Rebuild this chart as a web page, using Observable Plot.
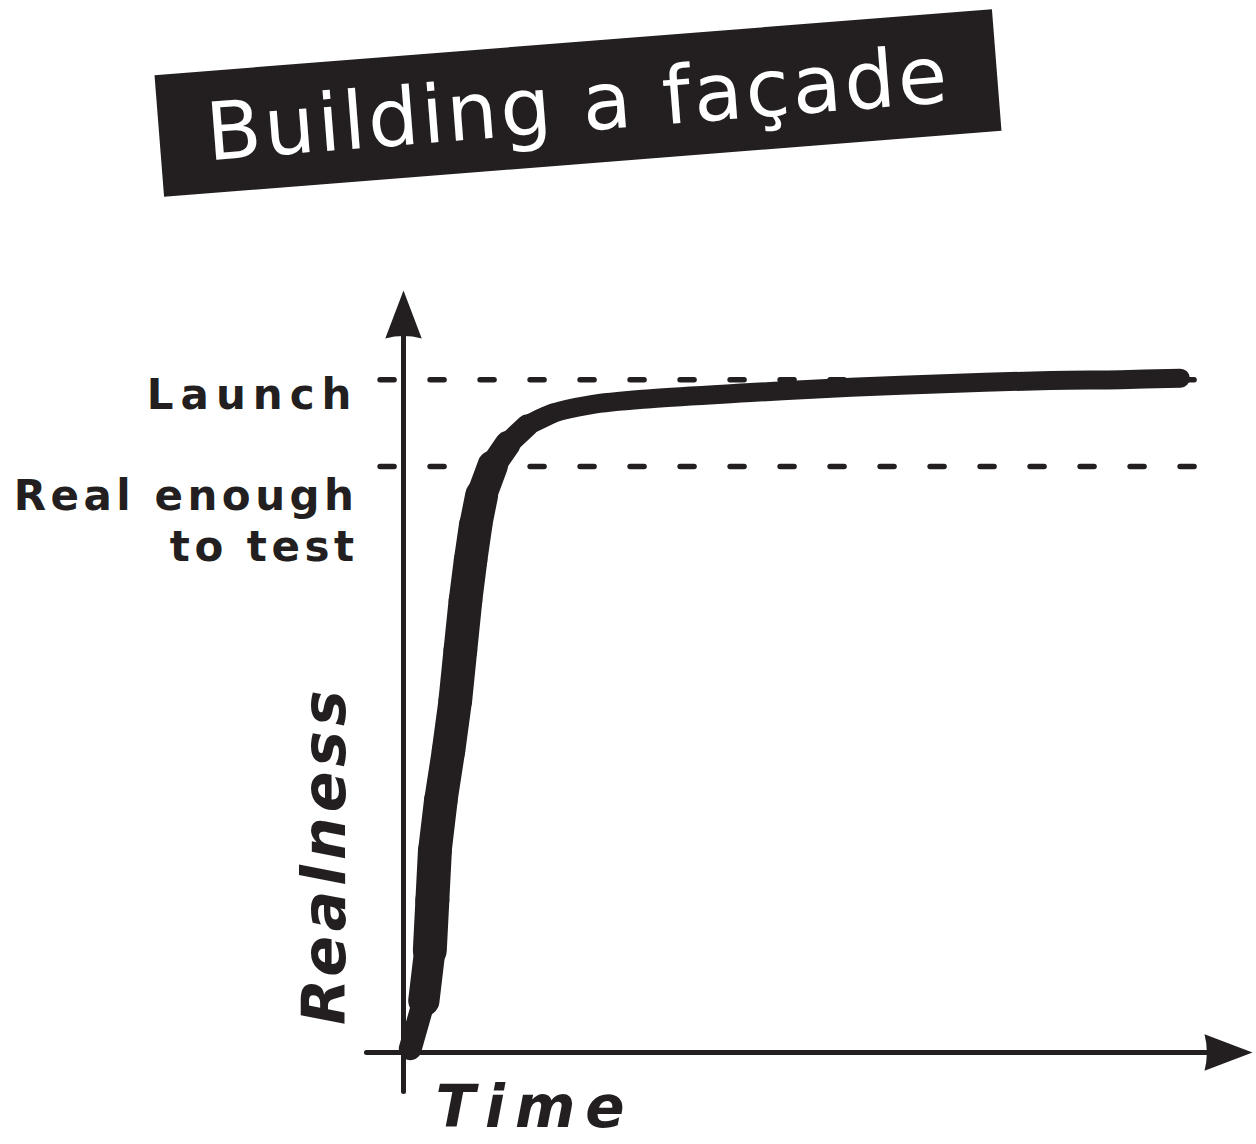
<!DOCTYPE html>
<html>
<head>
<meta charset="utf-8">
<script src="https://cdn.jsdelivr.net/npm/d3@7"></script>
<script src="https://cdn.jsdelivr.net/npm/@observablehq/plot@0.6"></script>
<style>
  html, body { margin: 0; padding: 0; background: #fff; }
  #wrap { width: 1256px; }
  #title-wrap { position: relative; height: 225px; }
  #title {
    position: absolute; left: 158px; top: 42px; width: 840px; height: 122px;
    background: #231f20; color: #fff; transform: rotate(-4.5deg);
    display: flex; align-items: center; justify-content: center;
    font-family: 'DejaVu Sans', sans-serif; font-size: 80px; letter-spacing: 3px;
  }
  #chart svg { display: block; }
</style>
</head>
<body>
<div id="wrap">
  <div id="title-wrap"><div id="title">Building a façade</div></div>
  <div id="chart"></div>
</div>
<script>
// Hand-drawn curve: realness over time (0–100 scales)
const time =     [0.8, 2.4, 3.1, 3.4, 3.7, 4.4, 5.3, 6.1, 6.7, 7.3, 7.9, 8.5, 9.2, 10.5, 12.3, 14.6, 17.6, 22.0, 29.1, 40.9, 52.7, 64.4, 76.2, 84.5, 91.5];
const realness = [0.5, 6.8, 13.4, 20.0, 26.5, 33.1, 39.6, 46.2, 52.8, 59.3, 64.6, 69.2, 73.1, 77.0, 79.9, 82.3, 83.9, 85.0, 85.8, 86.6, 87.3, 87.8, 88.2, 88.3, 88.5];

// Reference levels
const levelLabels = ["Launch", "Real enough\nto test"];
const levelValues = [88.3, 76.9];

// Axis titles
const xTitle = "Time";
const yTitle = "Realness";

const ink = "#231f20";
const font = "'DejaVu Sans', sans-serif";

const curve = time.map((t, i) => ({time: t, realness: realness[i]}));
const levels = levelLabels.map((label, i) => ({label, value: levelValues[i]}));

// consecutive pieces of the curve; the pen bore down harder on the steep stretch
const W = 1256 - 403 - 4, H = 919 - 65 - 92;
const pieces = curve.slice(1).map((b, i) => {
  const a = curve[i];
  const dx = (b.time - a.time) * W / 100, dy = (b.realness - a.realness) * H / 100;
  const s = Math.abs(dy) / Math.hypot(dx, dy);
  const start = Math.min(1, (a.realness + b.realness) / 2 / 12);
  return {x1: a.time, y1: a.realness, x2: b.time, y2: b.realness, w: 19 + 15 * s ** 4 * start};
});

const xMax = 100, yMax = 100;

const arrowHead = {
  draw(context, size) {
    const r = Math.sqrt(size / Math.PI);
    const w = r * 0.38;
    context.moveTo(0, 0);
    context.lineTo(-w, r);
    context.quadraticCurveTo(0, r * 0.9, w, r);
    context.closePath();
  }
};

const textOpts = {textAnchor: "end", fontSize: 42, fontWeight: "bold", fill: ink,
  lineHeight: 1.2, lineAnchor: "middle", x: -5.3, y: "value", text: "label"};

const chart = Plot.plot({
  width: 1256,
  height: 919,
  marginLeft: 403,
  marginRight: 4,
  marginTop: 65,
  marginBottom: 92,
  x: {domain: [0, xMax], axis: null},
  y: {domain: [0, yMax], axis: null},
  style: {fontFamily: font, color: ink, background: "#fff"},
  marks: [
    // dashed reference levels
    Plot.ruleY(levels, {y: "value", x1: -2.7, x2: 95.5, stroke: ink, strokeWidth: 5.5,
      strokeDasharray: "14,36", strokeLinecap: "round"}),
    // axes
    Plot.ruleX([0], {y1: -5.2, y2: yMax - 6, stroke: ink, strokeWidth: 5, strokeLinecap: "round"}),
    Plot.ruleY([0], {x1: -4.3, x2: xMax - 4.5, stroke: ink, strokeWidth: 5, strokeLinecap: "round"}),
    Plot.dot([{x: 0, y: yMax, rot: 0}, {x: xMax, y: 0, rot: 90}],
      {x: "x", y: "y", rotate: "rot", symbol: arrowHead, r: 48, fill: ink, stroke: "none"}),
    // the curve
    Plot.line(curve, {x: "time", y: "realness", curve: "catmull-rom", stroke: ink,
      strokeWidth: 19, strokeLinecap: "round", strokeLinejoin: "round"}),
    Plot.link(pieces.filter(p => p.w > 19.5), {x1: "x1", y1: "y1", x2: "x2", y2: "y2",
      strokeWidth: "w", stroke: ink, strokeLinecap: "round"}),
    // level labels
    Plot.text(levels.slice(0, 1), {...textOpts, dy: 13}),
    Plot.text(levels.slice(1), {...textOpts, dy: 53}),
    // axis titles
    Plot.text([xTitle], {x: 15.5, y: -7.3, text: d => d, fontSize: 58, fontWeight: "bold",
      fontStyle: "italic", fill: ink}),
    Plot.text([yTitle], {x: -9.2, y: 25.9, text: d => d, fontSize: 60, fontWeight: "bold",
      fontStyle: "italic", rotate: -90, fill: ink})
  ]
});

document.getElementById("chart").append(chart);
const textGroups = chart.querySelectorAll("g[aria-label='text']");
const spacing = ["7px", "4.5px", "10px", "5px"];
textGroups.forEach((g, i) => g.querySelectorAll("text").forEach(t => t.style.letterSpacing = spacing[i]));
</script>
</body>
</html>
